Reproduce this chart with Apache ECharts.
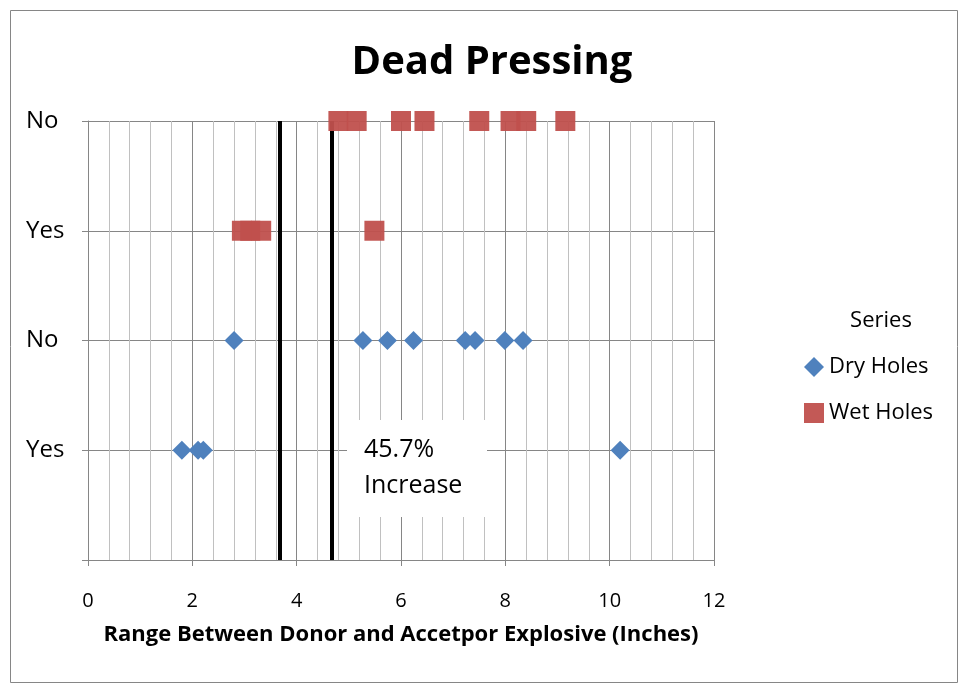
<!DOCTYPE html>
<html><head><meta charset="utf-8">
<script src="https://cdn.jsdelivr.net/npm/echarts@6/dist/echarts.min.js"></script>
<style>html,body{margin:0;padding:0;background:#fff}#c{width:963px;height:687px}</style>
</head><body><div id="c"></div>
<script>
// Data
const yTickLabels = ['', 'Yes', 'No', 'Yes', 'No'];
const dryYesX = [1.80, 2.11, 2.21, 10.2];
const dryNoX = [2.80, 5.27, 5.74, 6.24, 7.23, 7.42, 7.99, 8.34];
const wetYesX = [2.95, 3.11, 3.32, 5.49];
const wetNoX = [4.80, 5.15, 6.00, 6.45, 7.50, 8.10, 8.40, 9.15];
const rowLevel = { dryYes: 1, dryNo: 2, wetYes: 3, wetNo: 4 };
const referenceLines = [3.68, 4.68];
const annotationText = '45.7%\nIncrease';

const FONT = '"Open Sans", "Liberation Sans", sans-serif';
const chart = echarts.init(document.getElementById('c'), null, { renderer: 'canvas' });

const dryData = dryYesX.map(x => [x, rowLevel.dryYes]).concat(dryNoX.map(x => [x, rowLevel.dryNo]));
const wetData = wetYesX.map(x => [x, rowLevel.wetYes]).concat(wetNoX.map(x => [x, rowLevel.wetNo]));

chart.setOption({
  animation: false,
  backgroundColor: '#fff',
  title: [{
    text: 'Dead Pressing', left: 487, top: 38, textAlign: 'center',
    textStyle: { fontFamily: FONT, fontWeight: 'bold', fontSize: 40, color: '#000' }
  }, {
    text: 'Series', left: 876, top: 305, textAlign: 'center',
    textStyle: { fontFamily: FONT, fontWeight: 'normal', fontSize: 22, color: '#000' }
  }],
  legend: {
    orient: 'vertical', left: 799, top: 351, itemGap: 24,
    itemWidth: 20, itemHeight: 20,
    textStyle: { fontFamily: FONT, fontSize: 22, color: '#000' },
    data: [{ name: 'Dry Holes', icon: 'diamond' }, { name: 'Wet Holes', icon: 'rect' }]
  },
  grid: { left: 88, right: 249, top: 121, bottom: 127, containLabel: false },
  xAxis: {
    type: 'value', min: 0, max: 12, interval: 2,
    name: 'Range Between Donor and Accetpor Explosive (Inches)',
    nameLocation: 'middle', nameGap: 64,
    nameTextStyle: { fontFamily: FONT, fontWeight: 'bold', fontSize: 22, color: '#000' },
    axisLine: { show: true, lineStyle: { color: '#868686', width: 1 } },
    axisTick: { show: true, length: 6, lineStyle: { color: '#868686' } },
    axisLabel: { fontFamily: FONT, fontSize: 20, color: '#000', margin: 31 },
    splitLine: { show: true, lineStyle: { color: '#868686', width: 1 } },
    minorTick: { show: false, splitNumber: 5 },
    minorSplitLine: { show: true, lineStyle: { color: '#c0c0c0', width: 1 } }
  },
  yAxis: {
    type: 'value', min: 0, max: 4, interval: 1,
    axisLine: { show: true, lineStyle: { color: '#868686', width: 1 } },
    axisTick: { show: true, length: 6, lineStyle: { color: '#868686' } },
    axisLabel: {
      fontFamily: FONT, fontSize: 24, color: '#000', margin: 62, align: 'left',
      formatter: v => yTickLabels[Math.round(v)] || ''
    },
    splitLine: { show: true, lineStyle: { color: '#868686', width: 1 } }
  },
  series: [{
    name: 'Dry Holes', type: 'scatter', symbol: 'diamond', symbolSize: 19,
    itemStyle: { color: '#4F81BD', opacity: 1 }, data: dryData, z: 5,
    markLine: {
      silent: true, symbol: ['none', 'none'], label: { show: false },
      lineStyle: { color: '#000', width: 4, type: 'solid' },
      data: referenceLines.map(x => ({ xAxis: x }))
    }
  }, {
    name: 'Wet Holes', type: 'scatter', symbol: 'rect', symbolSize: 20,
    itemStyle: { color: '#C0504D', opacity: 0.95 }, data: wetData, z: 6
  }],
  graphic: [{
    type: 'rect', left: 8, top: 8, z: -10,
    shape: { width: 947, height: 672 },
    style: { fill: 'none', stroke: '#868686', lineWidth: 1 }
  }, {
    type: 'rect', left: 347, top: 420, z: 50,
    shape: { width: 140, height: 97 },
    style: { fill: '#fff', stroke: 'none' }
  }, {
    type: 'text', left: 364, top: 432, z: 51,
    style: { text: annotationText, fontFamily: FONT, fontSize: 25, lineHeight: 36, fill: '#000' }
  }]
});
</script></body></html>
